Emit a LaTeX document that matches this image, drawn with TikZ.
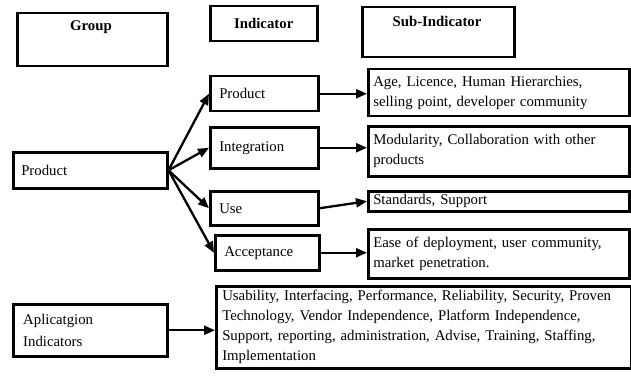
\documentclass[tikz,border=0pt]{standalone}
\usepackage{fontspec}
\setmainfont{Liberation Serif}
\usetikzlibrary{arrows.meta}
\begin{document}
\begin{tikzpicture}[x=1pt,y=-1pt,
  box/.style={draw,line width=2.5pt,anchor=north west,inner ysep=0pt,align=left,
    font=\fontsize{14.8}{20}\selectfont},
  hdr/.style={font=\fontsize{14.8}{16}\selectfont\bfseries,inner sep=0pt},
  arr/.style={line width=2.3pt,-{Triangle[length=11pt,width=9pt]}}]
\useasboundingbox (0,0) rectangle (631,377);
% headers
\node[box,minimum width=150pt,minimum height=53pt] (group) at (16,12) {};
\node[hdr] (groupt) at (91,27) {Group};
\node[box,minimum width=107pt,minimum height=35pt,align=center,text width=97pt,inner xsep=5pt,font=\fontsize{14.8}{16}\selectfont\bfseries] (indh) at (209,5) {Indicator};
\node[box,minimum width=152pt,minimum height=50pt] (subh) at (361,6) {};
\node[hdr] (subht) at (437,21) {Sub-Indicator};
% group product
\node[box,minimum height=36pt,text width=138pt,inner xsep=8pt] (prodG) at (12,151) {Product};
% indicators
\node[box,minimum height=35pt,text width=90pt,inner xsep=9pt] (ind1) at (209,75) {Product};
\node[box,minimum height=41pt,text width=90pt,inner xsep=9pt] (ind2) at (209,126) {Integration};
\node[box,minimum height=34pt,text width=90pt,inner xsep=9pt] (ind3) at (209,190) {Use};
\node[box,minimum height=35pt,text width=86pt,inner xsep=9pt] (ind4) at (214,234) {Acceptance};
% sub indicators
\node[box,minimum height=47pt,text width=251pt,inner xsep=5pt] (sub1) at (367,68) {Age, Licence, Human Hierarchies,\\selling point, developer community};
\node[box,minimum height=50pt,text width=251pt,inner xsep=5pt] (sub2) at (367,125) {Modularity, Collaboration with other\\products};
\node[box,minimum height=20pt,text width=251pt,inner xsep=5pt] (sub3) at (367,190) {Standards, Support};
\node[box,minimum height=49pt,text width=251pt,inner xsep=5pt] (sub4) at (367,228) {Ease of deployment, user community,\\market penetration.};
% application
\node[box,minimum height=52pt,text width=134pt,inner xsep=10pt,font=\fontsize{14.8}{22}\selectfont] (appG) at (12,303) {Aplicatgion\\Indicators};
\node[box,minimum height=82pt,text width=403pt,inner xsep=6pt] (appS) at (215,285) {Usability, Interfacing, Performance, Reliability, Security, Proven\\Technology, Vendor Independence, Platform Independence,\\Support, reporting, administration, Advise, Training, Staffing,\\Implementation};
% arrows
\draw[arr] (prodG.east) -- (ind1.west);
\draw[arr] (prodG.east) -- (ind2.west);
\draw[arr] (prodG.east) -- (ind3.west);
\draw[arr] (prodG.east) -- (ind4.west);
\draw[arr] (ind1.east) -- (ind1.east -| sub1.west);
\draw[arr] (ind2.east) -- (ind2.east -| sub2.west);
\draw[arr] (ind3.east) -- (sub3.west);
\draw[arr] (ind4.east) -- (ind4.east -| sub4.west);
\draw[arr] (appG.east) -- (appG.east -| appS.west);
\end{tikzpicture}
\end{document}
